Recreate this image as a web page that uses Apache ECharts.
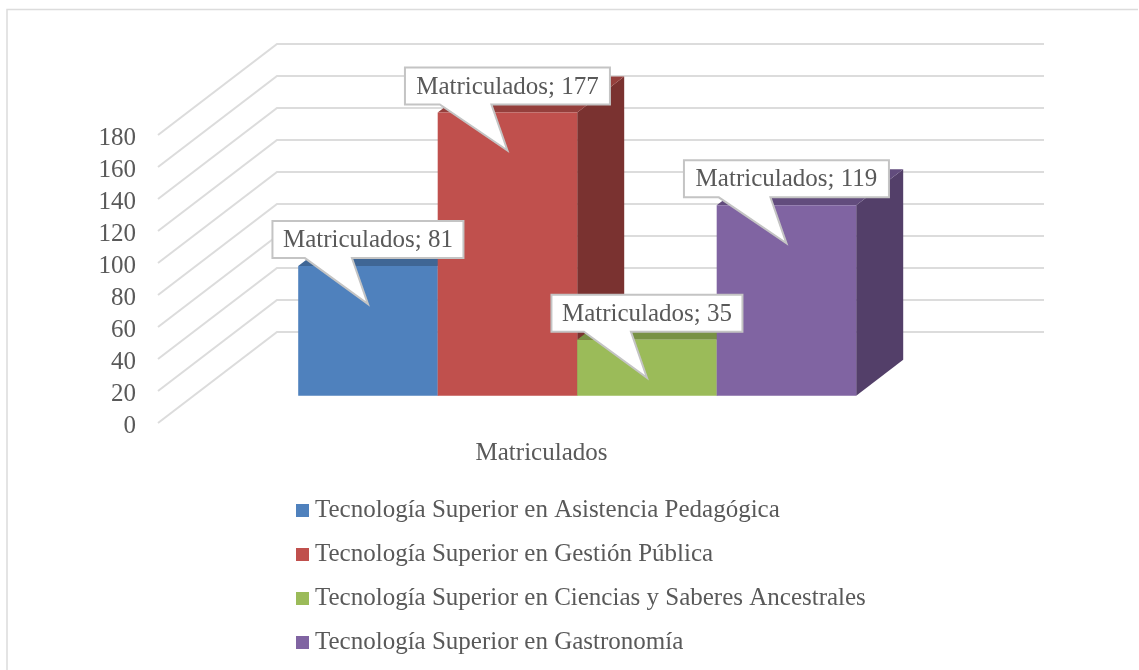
<!DOCTYPE html>
<html>
<head>
<meta charset="utf-8">
<style>
    html, body { margin: 0; padding: 0; background: #fff; }
    #chart { width: 1139px; height: 670px; }
</style>
<script src="https://cdn.jsdelivr.net/npm/echarts@6/dist/echarts.min.js"></script>
</head>
<body>
<div id="chart"></div>
<script>
    const categories = ['Matriculados']
    const careers = [
        'Tecnología Superior en Asistencia Pedagógica',
        'Tecnología Superior en Gestión Pública',
        'Tecnología Superior en Ciencias y Saberes Ancestrales',
        'Tecnología Superior en Gastronomía'
    ]
    const enrolled = [81, 177, 35, 119]
    const yTicks = [0, 20, 40, 60, 80, 100, 120, 140, 160, 180]

    const frontColors = ['#4F81BD', '#C0504D', '#9BBB59', '#8064A2']
    const topColors = ['#3F6695', '#953F3C', '#789145', '#624C7D']
    const sideColors = ['#355578', '#7A3230', '#647A39', '#533F69']

    const FONT = '"Liberation Serif", serif'
    const TEXT = '#595959'
    const LINE = '#DCDCDC'

    // 3d projection, pixels from the front plane of the axis to the back wall
    const wallDx = 119
    const wallDy = 91
    const barStart = 0.3
    const barDepth = 0.395
    const barsShare = 0.7275

    function barGeometry(api, index, value) {
        const band = api.size([1, 0])[0]
        const w = band * barsShare / careers.length
        const center = api.coord([0, 0])[0] + wallDx * barStart
        const left = center - w * careers.length / 2 + w * index
        return {
            w,
            left,
            right: left + w,
            base: api.coord([0, 0])[1] - wallDy * barStart,
            top: api.coord([0, value])[1] - wallDy * barStart
        }
    }

    function renderWall(params, api) {
        const p = api.coord([0, api.value(1)])
        const band = api.size([1, 0])[0]
        const x = p[0] - band / 2
        return {
            type: 'polyline',
            shape: {points: [[x, p[1]], [x + wallDx, p[1] - wallDy], [x + wallDx + band, p[1] - wallDy]]},
            style: {stroke: LINE, lineWidth: 2, fill: null}
        }
    }

    function renderBar(params, api) {
        const i = params.seriesIndex - 1
        const g = barGeometry(api, i, api.value(1))
        const dx = wallDx * barDepth
        const dy = wallDy * barDepth
        return {
            type: 'group',
            children: [
                {
                    type: 'polygon',
                    shape: {points: [[g.right, g.top], [g.right + dx, g.top - dy], [g.right + dx, g.base - dy], [g.right, g.base]]},
                    style: {fill: sideColors[i]}
                },
                {
                    type: 'polygon',
                    shape: {points: [[g.left, g.top], [g.left + dx, g.top - dy], [g.right + dx, g.top - dy], [g.right, g.top]]},
                    style: {fill: topColors[i]}
                },
                {
                    type: 'rect',
                    shape: {x: g.left, y: g.top, width: g.w, height: g.base - g.top},
                    style: {fill: frontColors[i]}
                }
            ]
        }
    }

    function renderCallout(params, api) {
        const value = api.value(1)
        const g = barGeometry(api, params.dataIndex, value)
        const text = categories[0] + '; ' + value
        const cx = g.left + g.w / 2
        const boxW = 14 * text.length - 33
        const l = cx - boxW / 2
        const r = cx + boxW / 2
        const t = g.top - 45
        const b = g.top - 8
        return {
            type: 'group',
            children: [
                {
                    type: 'polygon',
                    shape: {points: [[l, t], [r, t], [r, b], [cx - 16, b], [cx, g.top + 38], [cx - boxW * 0.33, b], [l, b]]},
                    style: {fill: '#fff', stroke: '#C4C4C4', lineWidth: 2}
                },
                {
                    type: 'text',
                    style: {
                        x: cx,
                        y: (t + b) / 2 + 1,
                        text,
                        fill: TEXT,
                        font: '25px ' + FONT,
                        align: 'center',
                        verticalAlign: 'middle'
                    }
                }
            ]
        }
    }

    const chart = echarts.init(document.getElementById('chart'), null, {renderer: 'canvas'})
    chart.setOption({
        animation: false,
        backgroundColor: '#fff',
        textStyle: {fontFamily: FONT},
        graphic: [
            {
                type: 'polyline',
                silent: true,
                shape: {points: [[7, 670], [7, 9.5], [1138, 9.5]]},
                style: {stroke: LINE, lineWidth: 1.5, fill: null}
            }
        ],
        grid: {left: 158, top: 135, width: 767, height: 288},
        xAxis: {
            type: 'category',
            data: categories,
            axisLine: {show: false},
            axisTick: {show: false},
            axisLabel: {color: TEXT, fontSize: 25, margin: 18, fontFamily: FONT}
        },
        yAxis: {
            type: 'value',
            min: 0,
            max: 180,
            interval: 20,
            axisLine: {show: false},
            axisTick: {show: false},
            splitLine: {show: false},
            axisLabel: {
                margin: 22,
                formatter: '{tick|{value}}',
                rich: {
                    tick: {color: TEXT, fontSize: 25, fontFamily: FONT, padding: [6, 0, 0, 0]}
                }
            }
        },
        legend: {
            data: careers,
            orient: 'vertical',
            left: 296,
            top: 495,
            padding: 0,
            icon: 'rect',
            itemWidth: 13,
            itemHeight: 13,
            itemGap: 13,
            selectedMode: false,
            textStyle: {color: TEXT, fontSize: 25, fontFamily: FONT, padding: [3, 0, 0, 1], lineHeight: 28}
        },
        series: [
            {
                type: 'custom',
                name: 'walls',
                silent: true,
                clip: false,
                renderItem: renderWall,
                data: yTicks.map(v => [0, v]),
                z: 1
            }
        ].concat(careers.map((name, i) => ({
            type: 'custom',
            name,
            silent: true,
            clip: false,
            renderItem: renderBar,
            itemStyle: {color: frontColors[i]},
            data: [[0, enrolled[i]]],
            z: 2
        }))).concat([
            {
                type: 'custom',
                name: 'callouts',
                silent: true,
                clip: false,
                renderItem: renderCallout,
                data: enrolled.map(v => [0, v]),
                z: 3
            }
        ])
    })
</script>
</body>
</html>
